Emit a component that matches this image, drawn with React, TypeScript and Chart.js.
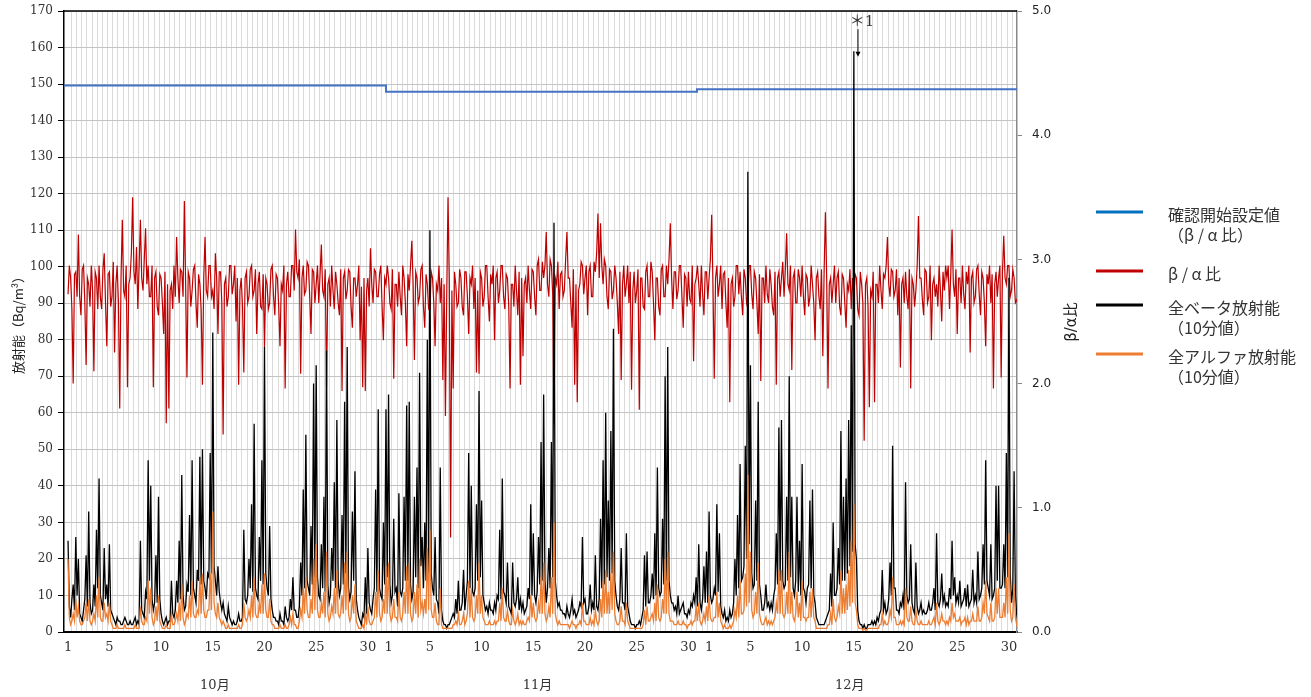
import React, { useEffect, useRef } from 'react';
import { Chart, registerables } from 'chart.js';

Chart.register(...registerables);

// 8 samples per day, day index 0 = Oct 1
const SAMPLES_PER_DAY = 8;

// 全ベータ放射能 (Bq/m3)
const betaOct = [
  25,7,4,9,13,6,26,10, 20,5,4,3,6,9,21,7, 33,8,5,6,13,7,28,12, 42,10,8,6,23,9,13,7, 24,6,5,4,3,2,4,3,
  3,2,2,3,4,3,2,2, 3,2,2,3,4,2,3,2, 25,6,5,4,11,9,47,14, 40,9,6,8,21,8,37,9, 5,3,2,3,4,2,3,3,
  14,5,4,6,14,8,25,9, 43,10,6,7,13,11,32,10, 47,12,10,8,17,14,48,13, 50,14,12,9,16,15,49,16, 82,18,14,10,18,11,8,6,
  8,5,4,3,7,4,3,2, 3,2,2,3,5,3,3,4, 28,9,8,10,20,12,35,11, 57,12,10,9,26,14,47,13, 78,16,12,10,29,9,6,4,
  4,3,3,2,5,3,3,2, 7,4,3,4,9,6,15,6, 6,4,4,7,19,10,39,12, 54,14,12,10,29,13,68,15, 73,15,10,9,24,12,37,11,
  77,13,8,10,23,14,41,12, 58,14,10,12,32,13,63,16, 78,12,9,11,33,14,44,9, 6,4,3,2,5,4,15,5, 23,8,6,5,9,12,39,11,
  61,12,10,9,30,13,61,15,
];
const betaNov = [
  65,13,8,10,31,11,12,7, 38,11,10,12,37,14,62,14, 63,13,9,11,37,15,45,12, 71,18,26,12,30,14,80,16, 110,16,12,10,26,9,8,5,
  45,6,3,2,2,1,2,2, 3,4,5,4,9,5,14,6, 6,8,17,6,10,14,49,12, 40,11,10,12,35,14,66,15, 36,10,8,6,7,5,8,6,
  6,5,8,6,10,9,28,9, 42,11,10,8,19,7,6,5, 19,8,7,9,15,6,9,6, 8,5,6,7,12,9,35,10, 27,10,8,11,26,13,52,14,
  65,14,8,12,23,12,52,15, 112,14,10,7,8,6,6,5, 5,4,7,5,4,6,9,5, 6,4,5,6,8,7,26,8, 9,5,5,7,13,6,8,6,
  21,7,6,9,31,12,47,13, 60,15,36,14,55,16,83,14, 10,7,6,9,23,8,8,6, 27,7,5,3,2,2,2,1, 2,2,3,2,4,6,21,7,
  22,8,8,10,16,9,27,10, 45,12,10,11,31,13,70,14, 78,14,10,8,8,6,7,5, 10,5,6,7,8,5,5,4, 6,5,8,7,10,8,15,7,
];
const betaDec = [
  24,8,6,9,18,8,22,8, 33,10,8,9,12,10,35,11, 27,7,5,4,6,3,4,3, 6,4,5,8,20,10,32,12, 46,14,15,18,51,20,126,24,
  73,16,12,13,36,14,63,13, 10,6,6,8,13,7,8,6, 8,6,10,12,27,13,56,14, 58,14,12,13,37,14,70,15, 37,12,10,14,37,11,25,10,
  46,12,11,8,12,13,36,12, 39,10,8,4,3,2,2,2, 2,2,3,4,5,6,16,7, 30,10,10,12,23,13,55,14, 37,14,42,16,58,18,84,22,
  159,24,20,6,3,2,2,1, 2,1,1,2,2,2,3,2, 3,2,4,3,5,6,17,6, 8,5,6,9,19,10,51,12, 12,6,6,5,8,7,10,6,
  41,10,8,9,24,8,6,5, 19,7,5,6,8,5,6,5, 5,6,8,6,6,8,12,6, 27,8,7,9,16,8,10,7, 8,7,12,9,25,10,15,8,
  10,8,14,7,8,9,12,7, 13,7,8,9,17,8,10,8, 22,9,10,12,24,13,47,14, 12,10,24,9,10,12,40,14, 40,12,12,13,24,12,49,15,
  97,16,8,12,44,10,5,3,
];

// 全アルファ放射能 (Bq/m3)
const alphaOct = [
  20,4,2,3,5,3,9,4, 7,3,2,2,3,4,8,3, 9,3,2,3,5,3,10,4, 15,4,3,3,8,4,5,3, 8,3,2,1,1,1,2,1,
  1,1,1,1,2,1,1,1, 1,1,1,1,2,1,1,1, 7,3,2,2,4,3,14,5, 12,4,2,3,7,3,10,3, 2,1,1,1,2,1,1,1,
  5,2,2,3,5,3,8,3, 13,4,2,3,5,4,10,4, 14,5,4,4,6,5,15,5, 16,6,4,4,6,6,16,6, 33,8,5,4,8,4,3,2,
  3,2,1,1,2,1,1,1, 1,1,1,1,2,1,1,2, 8,4,3,4,6,4,10,4, 15,5,4,4,8,5,13,5, 16,6,4,4,9,3,2,2,
  1,1,1,1,2,1,1,1, 2,1,1,2,4,2,5,2, 2,1,1,3,6,4,12,5, 15,6,4,4,9,5,20,6, 24,6,4,4,8,5,11,4,
  22,5,3,4,7,5,12,5, 17,5,4,5,10,5,19,6, 22,5,3,4,10,5,13,3, 2,1,1,1,2,1,5,2, 7,3,2,2,3,4,11,4,
  17,5,3,4,9,5,18,5,
];
const alphaNov = [
  19,5,3,4,9,4,4,3, 11,4,3,5,11,5,18,5, 19,5,3,4,11,5,13,4, 20,6,8,5,9,5,23,6, 28,6,4,4,8,3,2,2,
  12,2,1,1,1,1,1,1, 1,1,2,2,3,2,5,2, 2,3,5,2,3,5,14,4, 12,4,3,4,10,5,19,5, 10,4,3,2,2,2,3,2,
  2,2,3,2,3,3,8,3, 12,4,3,3,6,3,2,2, 6,3,2,3,5,2,3,2, 3,2,2,3,4,3,10,4, 8,4,3,4,8,5,15,5,
  19,5,3,4,7,4,15,5, 30,5,3,2,3,2,2,2, 2,2,2,2,1,2,3,2, 2,1,2,2,3,2,8,3, 3,2,2,2,4,2,3,2,
  6,3,2,3,9,4,14,5, 17,5,11,5,16,6,22,5, 3,2,2,3,7,3,3,2, 8,3,2,1,1,1,1,1, 1,1,1,1,1,2,6,2,
  7,3,3,4,5,3,8,3, 13,4,3,4,9,5,20,5, 22,5,3,3,3,2,2,2, 3,2,2,2,3,2,2,1, 2,2,3,2,3,3,7,3,
];
const alphaDec = [
  8,3,2,3,5,3,7,3, 10,4,3,3,4,4,11,4, 8,3,2,1,2,1,1,1, 2,1,2,3,6,4,10,4, 14,5,5,6,16,7,43,8,
  22,6,4,5,11,5,19,5, 3,2,2,3,4,2,3,2, 3,2,3,4,8,5,17,5, 17,5,4,5,11,5,22,5, 11,4,3,5,11,4,8,3,
  14,4,4,3,4,4,11,4, 12,4,3,1,1,1,1,1, 1,1,1,1,2,2,5,2, 9,4,3,4,7,5,17,5, 12,5,13,6,17,7,25,8,
  35,8,6,2,1,1,1,0.5, 1,0.5,0.5,1,1,1,1,1, 1,1,1,1,2,2,5,2, 3,2,2,3,6,4,15,4, 4,2,2,2,3,2,3,2,
  12,4,3,3,7,3,2,2, 6,3,2,2,3,2,2,2, 2,2,3,2,2,3,4,2, 8,3,2,3,5,3,3,2, 3,2,4,3,8,4,5,3,
  3,3,4,2,3,3,4,2, 4,2,3,3,5,3,3,3, 7,3,3,4,8,5,14,5, 4,3,8,3,3,4,12,5, 12,4,4,4,8,4,15,5,
  27,6,3,4,13,4,2,1,
];

// β/α比
const ratioOct = [
  2.72,2.95,2.85,2.60,2.00,2.88,2.90,2.70, 3.20,2.70,2.55,2.92,2.95,2.65,2.15,2.85, 2.80,2.62,2.95,2.75,2.10,2.90,2.85,2.60,
  2.95,2.70,2.60,2.92,3.05,2.65,2.30,2.88, 2.90,2.62,2.70,2.98,2.25,2.80,2.95,2.65, 1.80,2.85,3.32,2.75,2.70,2.95,1.97,2.80,
  2.85,3.05,3.50,2.90,2.80,3.10,2.60,2.95, 3.32,2.85,2.75,3.00,3.25,2.80,2.95,2.70, 2.70,2.95,1.97,2.85,2.90,2.62,2.55,2.88,
  2.85,2.65,2.40,2.90,1.68,2.80,1.80,2.75, 2.80,2.60,2.95,2.70,3.18,2.85,2.65,2.92, 2.90,2.70,3.47,2.80,2.05,2.90,2.85,2.62,
  2.75,2.92,2.95,2.65,2.45,2.88,2.80,2.60, 1.99,2.85,3.18,2.75,2.70,2.95,2.95,2.70, 2.75,2.60,3.05,2.85,2.40,2.90,2.90,2.65,
  1.59,2.80,2.85,2.62,2.70,2.95,2.95,2.72, 2.80,2.95,2.50,2.85,1.99,2.75,2.85,2.62, 2.09,2.85,2.90,2.65,2.70,2.92,2.95,2.70,
  2.75,2.92,2.40,2.80,2.90,2.62,2.60,2.88, 2.29,2.85,2.80,2.60,2.65,2.92,2.95,2.70, 2.55,2.88,2.85,2.62,2.30,2.80,2.75,2.95,
  1.96,2.80,2.90,2.70,2.70,2.95,2.95,2.75, 3.24,2.90,2.85,3.00,2.08,2.85,2.95,2.72, 2.75,2.98,2.95,2.70,2.40,2.92,2.90,2.65,
  2.80,2.95,2.65,2.88,3.12,2.75,2.70,2.92, 1.97,2.80,2.85,2.62,2.95,2.75,2.60,2.90, 2.80,2.65,2.55,2.92,1.94,2.85,2.90,2.68,
  2.75,2.92,2.90,2.62,2.45,2.85,2.85,2.70, 2.80,2.95,2.35,2.78,1.97,2.85,1.94,2.75, 2.85,2.62,3.09,2.80,2.65,2.92,2.90,2.70,
  2.70,2.88,2.95,2.62,2.35,2.85,2.80,2.95,
];
const ratioNov = [
  2.85,2.65,2.60,2.92,2.04,2.80,2.80,2.62, 2.90,2.70,2.55,2.95,2.85,2.65,2.30,2.88, 2.75,2.95,3.15,2.80,2.19,2.90,2.85,2.65,
  2.70,2.92,2.95,2.62,2.45,2.88,2.80,2.60, 2.60,2.90,2.85,2.65,2.30,2.80,2.75,2.95, 2.65,2.85,2.03,2.80,1.74,2.70,3.50,2.85,
  0.76,2.75,1.96,2.90,2.80,2.62,2.65,2.92, 2.85,2.62,2.55,2.90,2.90,2.70,2.40,2.85, 2.80,2.95,2.60,2.85,2.09,2.75,2.08,2.90,
  2.85,2.62,2.70,2.95,2.95,2.70,2.50,2.88, 2.80,2.95,2.35,2.85,2.90,2.65,2.75,2.95, 2.95,2.70,2.60,2.88,2.85,2.62,1.96,2.80,
  2.80,2.62,2.95,2.75,2.55,2.90,1.99,2.85, 2.22,2.80,2.85,2.65,2.95,2.75,2.60,2.92, 2.90,2.70,2.55,2.95,3.00,2.75,2.75,2.98,
  2.85,2.95,3.22,2.80,2.70,3.00,2.95,2.72, 1.67,2.85,2.80,2.98,2.60,2.88,2.90,2.70, 2.75,3.00,3.22,2.85,2.85,2.65,2.45,2.92,
  1.99,2.80,1.85,2.75,2.80,2.98,2.95,2.72, 2.85,2.95,2.55,2.90,2.95,2.70,2.70,2.98, 2.90,3.05,3.37,2.85,3.29,2.95,2.80,3.00,
  2.95,2.70,2.60,2.92,2.90,2.68,2.75,2.95, 2.85,2.65,2.40,2.90,2.03,2.80,2.95,2.70, 2.80,2.95,2.65,2.90,1.95,2.75,2.90,2.65,
  2.75,2.92,1.79,2.85,2.85,2.62,2.60,2.90, 2.95,2.70,2.70,2.98,2.90,2.65,2.35,2.85, 2.85,2.62,2.55,2.92,2.95,2.70,2.70,2.95,
  2.80,3.00,3.29,2.85,2.60,2.90,2.90,2.68, 2.75,2.95,2.95,2.70,2.45,2.88,2.85,2.62, 2.90,2.68,2.65,2.95,2.18,2.80,2.85,2.95,
];
const ratioDec = [
  2.80,2.62,2.95,2.72,2.55,2.90,2.90,2.68, 2.85,3.00,3.36,2.80,2.04,2.85,2.95,2.70, 2.80,2.95,2.60,2.88,2.90,2.65,2.45,2.85,
  1.85,2.80,2.85,2.62,2.70,2.95,2.95,2.72, 2.90,2.70,2.55,2.92,2.85,2.65,2.70,2.95, 2.95,2.72,2.60,2.90,2.85,2.65,2.40,2.88,
  2.02,2.85,2.85,2.65,2.95,2.72,2.65,2.92, 2.80,2.62,2.55,2.90,1.99,2.85,2.90,2.70, 2.85,2.98,2.70,2.92,3.21,2.80,2.75,2.95,
  2.11,2.85,2.90,2.65,2.65,2.92,2.85,2.70, 2.95,2.70,2.55,2.88,2.85,2.62,2.70,2.95, 2.80,2.65,2.35,2.85,2.90,2.70,2.60,2.92,
  2.22,2.90,3.38,2.85,1.96,2.80,2.85,2.65, 2.80,2.95,2.65,2.85,2.90,2.62,2.55,2.88, 2.85,2.65,2.45,2.80,2.75,2.92,2.60,2.85,
  2.70,2.88,2.85,2.60,2.55,2.90,2.80,2.65, 1.54,2.80,2.85,2.62,1.81,2.75,2.70,2.90, 1.85,2.80,2.80,2.65,2.95,2.75,2.60,2.88,
  2.85,2.95,3.18,2.80,2.70,2.92,2.90,2.70, 2.75,2.92,2.55,2.85,2.13,2.80,2.85,2.65, 2.90,2.70,2.60,2.92,1.96,2.85,2.80,2.62,
  2.75,2.95,3.35,2.85,2.85,2.68,2.55,2.92, 2.90,2.65,2.70,2.95,2.35,2.80,2.85,2.70, 2.80,2.62,2.95,2.75,2.50,2.90,2.75,2.95,
  2.85,2.95,2.60,2.88,3.24,2.80,2.70,2.92, 2.40,2.85,2.85,2.65,2.95,2.72,2.60,2.90, 2.80,2.95,2.25,2.85,2.90,2.65,2.70,2.92,
  2.95,2.72,2.55,2.90,2.85,2.65,2.30,2.88, 2.80,2.95,2.65,2.88,1.96,2.80,2.90,2.70, 2.85,2.95,2.05,2.90,3.19,2.85,2.80,2.95,
  2.95,2.70,2.75,2.92,2.85,2.65,2.67,2.70,
];

// 確認開始設定値 (β/α比) – step changes
const thresholdX = [-0.39, 30.75, 60.83, 91.78];
const thresholdY = [4.40, 4.35, 4.37, 4.37];

// X axis
const X_MIN = -0.39;
const X_MAX = 91.78;
const tickIdx = [0, 4, 9, 14, 19, 24, 29, 31, 35, 40, 45, 50, 55, 60, 62, 66, 71, 76, 81, 86, 91];
const tickText = ['1', '5', '10', '15', '20', '25', '30', '1', '5', '10', '15', '20', '25', '30', '1', '5', '10', '15', '20', '25', '30'];
const monthLabels = ['10月', '11月', '12月'];
const monthLabelIdx = [14.2, 45.4, 75.6];
const GRID_START = 0.27;
const GRID_STEP = 0.5;

// Annotation *1
const annotText = '＊1';
const annotX = 76.4;
const annotTextY = 167;
const annotArrowFrom = 165;
const annotArrowTo = 157.5;

// Legend
const legendColors = ['#0070C0', '#C00000', '#000000', '#ED7D31'];
const legendLines = [
  ['確認開始設定値', '（β / α 比）'],
  ['β / α 比'],
  ['全ベータ放射能', '（10分値）'],
  ['全アルファ放射能', '（10分値）'],
];
const legendY = [212, 271, 305, 354];

const toPoints = (vals: number[]) => vals.map((v, i) => ({ x: i / SAMPLES_PER_DAY, y: v }));

const SERIF = '"DejaVu Serif", "Noto Sans CJK JP", serif';
const SANS = '"DejaVu Sans", "Noto Sans CJK JP", sans-serif';
const CJK = '"Noto Sans CJK JP", "DejaVu Sans", sans-serif';

const decorPlugin = {
  id: 'decor',
  beforeDraw(chart: any) {
    const { ctx, chartArea: a, scales } = chart;
    const x = scales.x;
    ctx.save();
    ctx.strokeStyle = '#dadada';
    ctx.lineWidth = 1;
    for (let v = GRID_START; v < X_MAX; v += GRID_STEP) {
      const px = Math.round(x.getPixelForValue(v)) + 0.5;
      if (px <= a.left + 1 || px >= a.right - 1) continue;
      ctx.beginPath();
      ctx.moveTo(px, a.top);
      ctx.lineTo(px, a.bottom);
      ctx.stroke();
    }
    ctx.restore();
  },
  afterDraw(chart: any) {
    const { ctx, chartArea: a, scales } = chart;
    const x = scales.x;
    const y = scales.y;
    ctx.save();
    ctx.strokeStyle = '#000';
    ctx.lineWidth = 1.5;
    ctx.beginPath();
    ctx.moveTo(a.left, a.top);
    ctx.lineTo(a.right, a.top);
    ctx.stroke();

    ctx.fillStyle = '#333';
    ctx.font = `13px ${SERIF}`;
    ctx.textAlign = 'center';
    ctx.textBaseline = 'middle';
    monthLabels.forEach((t, i) => ctx.fillText(t, x.getPixelForValue(monthLabelIdx[i]), 686));

    ctx.save();
    ctx.translate(18, 322);
    ctx.rotate(-Math.PI / 2);
    ctx.font = `13px ${CJK}`;
    ctx.fillStyle = '#222';
    ctx.fillText('放射能（Bq/m³）', 0, 0);
    ctx.restore();

    ctx.save();
    ctx.translate(1072, 322);
    ctx.rotate(-Math.PI / 2);
    ctx.font = `15px ${SANS}`;
    ctx.fillStyle = '#222';
    ctx.fillText('β/α比', 0, 0);
    ctx.restore();

    const ax = x.getPixelForValue(annotX);
    const ty = y.getPixelForValue(annotTextY);
    const y0 = y.getPixelForValue(annotArrowFrom);
    const y1 = y.getPixelForValue(annotArrowTo);
    ctx.fillStyle = '#333';
    ctx.font = `15px ${SERIF}`;
    ctx.textAlign = 'center';
    ctx.fillText(annotText, ax + 4, ty);
    ctx.strokeStyle = '#000';
    ctx.lineWidth = 1;
    ctx.beginPath();
    ctx.moveTo(ax, y0);
    ctx.lineTo(ax, y1 - 4);
    ctx.stroke();
    ctx.fillStyle = '#000';
    ctx.beginPath();
    ctx.moveTo(ax - 2.5, y1 - 5);
    ctx.lineTo(ax + 2.5, y1 - 5);
    ctx.lineTo(ax, y1);
    ctx.closePath();
    ctx.fill();

    ctx.textAlign = 'left';
    ctx.textBaseline = 'middle';
    ctx.font = `16px ${CJK}`;
    legendLines.forEach((lines, i) => {
      ctx.strokeStyle = legendColors[i];
      ctx.lineWidth = 3;
      ctx.beginPath();
      ctx.moveTo(1096, legendY[i]);
      ctx.lineTo(1143, legendY[i]);
      ctx.stroke();
      ctx.fillStyle = '#333';
      lines.forEach((t, k) => ctx.fillText(t, 1168, legendY[i] + 3 + k * 20));
    });
    ctx.restore();
  },
};

const fixVertical = (width: number) => (scale: any) => {
  scale.width = width;
  scale.paddingTop = 4;
  scale.paddingBottom = 4;
};

export default function App() {
  const ref = useRef<HTMLCanvasElement>(null);
  useEffect(() => {
    const blue = thresholdX.map((xv, i) => ({ x: xv, y: thresholdY[i] }));
    const chart = new Chart(ref.current as HTMLCanvasElement, {
      type: 'line',
      data: {
        datasets: [
          {
            label: '確認開始設定値（β/α比）',
            data: blue,
            yAxisID: 'y1',
            borderColor: '#4472C4',
            borderWidth: 2,
            pointRadius: 0,
            stepped: true,
            order: 4,
          },
          {
            label: 'β/α比',
            data: toPoints([...ratioOct, ...ratioNov, ...ratioDec]),
            yAxisID: 'y1',
            borderColor: '#C00000',
            borderWidth: 1.2,
            pointRadius: 0,
            order: 3,
          },
          {
            label: '全ベータ放射能（10分値）',
            data: toPoints([...betaOct, ...betaNov, ...betaDec]),
            yAxisID: 'y',
            borderColor: '#000000',
            borderWidth: 1.3,
            pointRadius: 0,
            order: 2,
          },
          {
            label: '全アルファ放射能（10分値）',
            data: toPoints([...alphaOct, ...alphaNov, ...alphaDec]),
            yAxisID: 'y',
            borderColor: '#ED7D31',
            borderWidth: 1.3,
            pointRadius: 0,
            order: 1,
          },
        ],
      } as any,
      options: {
        responsive: false,
        animation: false,
        devicePixelRatio: 1,
        events: [],
        layout: { padding: { top: 11, left: 0, right: 0, bottom: 0 } },
        plugins: { legend: { display: false }, tooltip: { enabled: false } },
        scales: {
          x: {
            type: 'linear',
            position: 'bottom',
            min: X_MIN,
            max: X_MAX,
            grid: { display: false, drawTicks: false },
            border: { color: '#000', width: 2 },
            afterBuildTicks: (scale: any) => {
              scale.ticks = tickIdx.map((v) => ({ value: v }));
            },
            afterFit: (scale: any) => {
              scale.height = 65;
            },
            ticks: {
              autoSkip: false,
              maxRotation: 0,
              padding: 8,
              color: '#333',
              font: { family: SERIF, size: 13 },
              callback: (value: any) => {
                const k = tickIdx.indexOf(Number(value));
                return k >= 0 ? tickText[k] : '';
              },
            },
          },
          y: {
            position: 'left',
            min: 0,
            max: 170,
            grid: { color: '#c4c4c4', tickColor: '#000', tickLength: 6, lineWidth: 1 },
            border: { color: '#000', width: 1.5 },
            afterFit: fixVertical(64),
            ticks: {
              stepSize: 10,
              padding: 5,
              color: '#333',
              font: { family: SERIF, size: 12 },
            },
          },
          y1: {
            position: 'right',
            min: 0,
            max: 5,
            grid: { drawOnChartArea: false, tickColor: '#888', tickLength: 5 },
            border: { color: '#888', width: 1.5 },
            afterFit: fixVertical(294),
            ticks: {
              stepSize: 1,
              padding: 10,
              color: '#222',
              font: { family: SANS, size: 12 },
              callback: (value: any) => Number(value).toFixed(1),
            },
          },
        },
      } as any,
      plugins: [decorPlugin],
    });
    return () => chart.destroy();
  }, []);

  return (
    <div style={{ position: 'fixed', left: 0, top: 0, width: 1311, height: 697, background: '#fff' }}>
      <canvas ref={ref} width={1311} height={697} style={{ display: 'block', width: 1311, height: 697 }} />
    </div>
  );
}
